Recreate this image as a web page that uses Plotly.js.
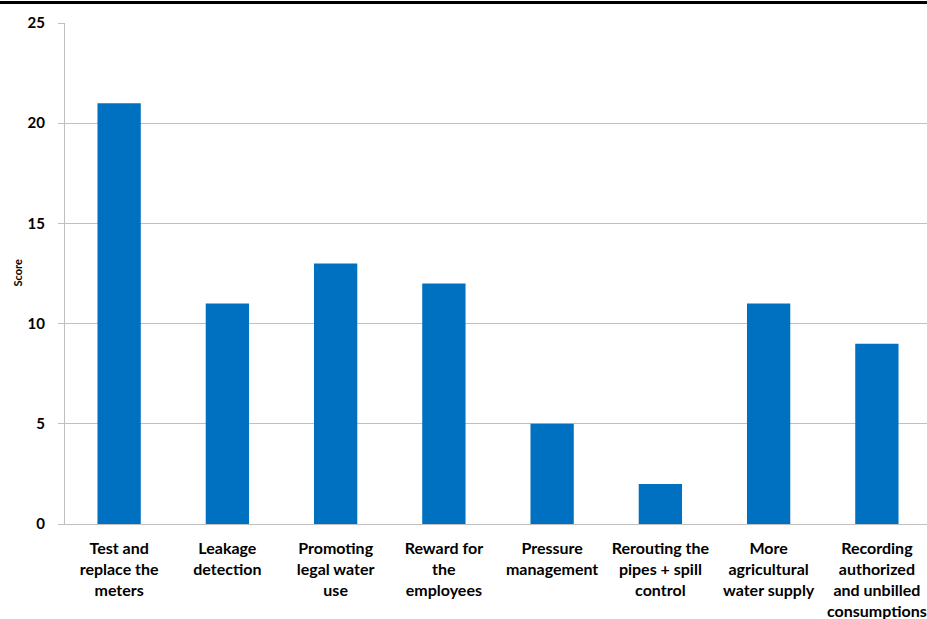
<!DOCTYPE html>
<html>
<head>
<meta charset="utf-8">
<script src="https://cdn.plot.ly/plotly-3.0.1.min.js"></script>
<style>
html, body { margin:0; padding:0; overflow:hidden; background:#fff; }
#chart { width:931px; height:619px; }
</style>
</head>
<body>
<div id="chart"></div>
<script>
const categories = [
  "Test and<br>replace the<br>meters",
  "Leakage<br>detection",
  "Promoting<br>legal water<br>use",
  "Reward for<br>the<br>employees",
  "Pressure<br>management",
  "Rerouting the<br>pipes + spill<br>control",
  "More<br>agricultural<br>water supply",
  "Recording<br>authorized<br>and unbilled<br>consumptions"
];
const scores = [21, 11, 13, 12, 5, 2, 11, 9];
const yTicks = [0, 5, 10, 15, 20, 25];
const yTitle = "Score";

const FONT = "Lato, Open Sans, Liberation Sans, Arial, sans-serif";

const trace = {
  type: "bar",
  x: categories,
  y: scores,
  marker: { color: "#0070C0" },
  hoverinfo: "none"
};

const layout = {
  width: 931,
  height: 619,
  margin: { l: 65, r: 0, t: 23, b: 95 },
  paper_bgcolor: "#ffffff",
  plot_bgcolor: "#ffffff",
  bargap: 0.6,
  showlegend: false,
  font: { family: FONT, color: "#000000" },
  xaxis: {
    type: "category",
    showline: true,
    linecolor: "#bfbfbf",
    linewidth: 1,
    ticks: "",
    showgrid: false,
    tickfont: { family: FONT, size: 16, color: "#000", weight: "bold" },
    tickangle: 0,
    ticklabelstandoff: 10,
    automargin: false
  },
  yaxis: {
    range: [0, 25],
    tickvals: yTicks,
    ticktext: yTicks.map(v => "<b>" + v + "</b>"),
    showline: true,
    linecolor: "#bfbfbf",
    linewidth: 1,
    ticks: "outside",
    ticklen: 6,
    tickcolor: "#bfbfbf",
    showgrid: true,
    gridcolor: "#bfbfbf",
    gridwidth: 1,
    zeroline: false,
    tickfont: { family: FONT, size: 15, color: "#000" },
    ticklabelstandoff: 10,
    automargin: false
  },
  annotations: [
    {
      text: "<b>" + yTitle + "</b>",
      xref: "paper", yref: "paper",
      x: 0, y: 0.5,
      xanchor: "center", yanchor: "middle",
      xshift: -48,
      textangle: -90,
      showarrow: false,
      font: { family: FONT, size: 11, color: "#000" }
    }
  ],
  shapes: [
    {
      type: "line", xref: "paper", yref: "paper",
      x0: -0.1, x1: 1.1, y0: 1.041, y1: 1.041,
      line: { color: "#000000", width: 3 }
    }
  ]
};

Plotly.newPlot("chart", [trace], layout, { staticPlot: true, displayModeBar: false });
</script>
</body>
</html>
